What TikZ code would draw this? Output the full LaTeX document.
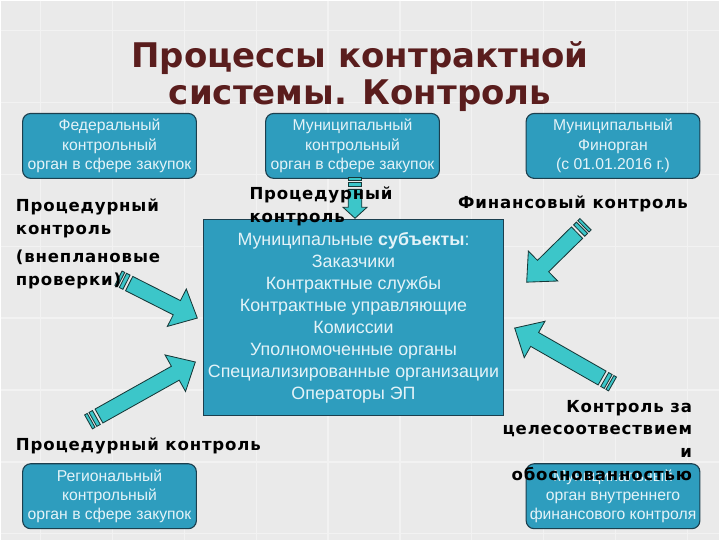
\documentclass[tikz,border=0pt]{standalone}
\usepackage{fontspec}
\setmainfont{Liberation Sans}
\newfontfamily\titlefont{DejaVu Sans}
\newfontfamily\lblfont[LetterSpace=5]{DejaVu Sans}
\usetikzlibrary{calc}
\definecolor{bg}{HTML}{EAEAEA}
\definecolor{bgline}{HTML}{F2F2F2}
\definecolor{boxfill}{HTML}{2E9DBE}
\definecolor{boxline}{HTML}{1C3F4E}
\definecolor{boxtext}{HTML}{E4F3F8}
\definecolor{arrowfill}{HTML}{3CC6C9}
\definecolor{arrowline}{HTML}{163838}
\definecolor{titlecol}{HTML}{5A1D1D}
\tikzset{
  orgbox/.style={draw=boxline, line width=0.8pt, fill=boxfill, rounded corners=0.2cm,
    text=boxtext, align=center, inner sep=0pt, minimum width=4.35cm, minimum height=1.625cm,
    font=\fontsize{11.2}{13.8}\selectfont},
  subjbox/.style={draw=boxline, line width=0.8pt, fill=boxfill, text=boxtext, align=center,
    inner sep=0pt, minimum width=7.525cm, minimum height=4.925cm,
    font=\fontsize{12.7}{15.7}\selectfont},
  lbl/.style={inner sep=0pt, text=black, font=\lblfont\bfseries\fontsize{11.8}{16.2}\selectfont},
  titlesty/.style={inner sep=0pt, text=titlecol, align=center,
    font=\titlefont\bfseries\fontsize{24.2}{27}\selectfont},
  arrowsty/.style={fill=arrowfill, draw=arrowline, line width=0.6pt, line join=miter}
}
% #1 tail, #2 tip, #3 body half width, #4 head half width, #5 head length
\newcommand\striparrow[5]{%
  \filldraw[arrowsty] ($(#1)!0cm!(#2)!#3!90:(#2)$) -- ($(#1)!0.075cm!(#2)!#3!90:(#2)$)
     -- ($(#1)!0.075cm!(#2)!#3!-90:(#2)$) -- ($(#1)!0cm!(#2)!#3!-90:(#2)$) -- cycle;
  \filldraw[arrowsty] ($(#1)!0.125cm!(#2)!#3!90:(#2)$) -- ($(#1)!0.225cm!(#2)!#3!90:(#2)$)
     -- ($(#1)!0.225cm!(#2)!#3!-90:(#2)$) -- ($(#1)!0.125cm!(#2)!#3!-90:(#2)$) -- cycle;
  \filldraw[arrowsty] ($(#1)!0.3cm!(#2)!#3!90:(#2)$) -- ($(#2)!#5!(#1)!#3!90:(#2)$)
     -- ($(#2)!#5!(#1)!#4!90:(#2)$) -- (#2) -- ($(#2)!#5!(#1)!#4!-90:(#2)$)
     -- ($(#2)!#5!(#1)!#3!-90:(#2)$) -- ($(#1)!0.3cm!(#2)!#3!-90:(#2)$) -- cycle;
}
\begin{document}
\begin{tikzpicture}[x=0.025cm,y=-0.025cm]
% background
\fill[bg] (0,0) rectangle (720,540);
\foreach \gx in {40,112,184,256,328,400,472,544,616,688}
  \draw[bgline, line width=1pt] (\gx,0) -- (\gx,540);
\foreach \gy in {30,102,174,246,318,390,462,534}
  \draw[bgline, line width=1pt] (0,\gy) -- (720,\gy);
\useasboundingbox (0,0) rectangle (720,540);

% title
\node[titlesty] (title) at (360,76) {Процессы контрактной\\системы. Контроль};

% organisation boxes
\node[orgbox] (fed) at (109,145.5) {Федеральный\\контрольный\\орган в сфере закупок};
\node[orgbox] (mun) at (352.5,145.5) {Муниципальный\\контрольный\\орган в сфере закупок};
\node[orgbox] (fin) at (613.5,145.5) {Муниципальный\\Финорган\\(с 01.01.2016 г.)};
\node[orgbox] (reg) at (109,496.5) {Региональный\\контрольный\\орган в сфере закупок};
\node[orgbox] (int) at (613.5,496.5) {Муниципальный\\орган внутреннего\\финансового контроля};

% central box
\node[subjbox] (subj) at (353.5,317.5) {Муниципальные \textbf{субъекты}:\\Заказчики\\Контрактные службы\\Контрактные управляющие\\Комиссии\\Уполномоченные органы\\Специализированные организации\\Операторы ЭП};

% arrows
\coordinate (t1) at (118,278); \coordinate (h1) at (197,318);
\coordinate (t2) at (88,422);  \coordinate (h2) at (195,362);
\coordinate (t3) at (586,224); \coordinate (h3) at (527,282);
\coordinate (t4) at (613,384); \coordinate (h4) at (515,328);
\coordinate (t5) at (355,177); \coordinate (h5) at (355,218);
\striparrow{t1}{h1}{0.2cm}{0.525cm}{0.575cm}
\striparrow{t2}{h2}{0.2cm}{0.525cm}{0.575cm}
\striparrow{t3}{h3}{0.2cm}{0.525cm}{0.575cm}
\striparrow{t4}{h4}{0.2cm}{0.525cm}{0.575cm}
\striparrow{t5}{h5}{0.17cm}{0.3cm}{0.275cm}

% labels
\node[lbl, anchor=west, align=left] (lblA) at (15,218) {Процедурный\\контроль};
\node[lbl, anchor=west, align=left] (lblB) at (15,269) {(внеплановые\\проверки)};
\node[lbl, anchor=west, align=left] (lblC) at (249,206) {Процедурный\\контроль};
\node[lbl, anchor=west] (lblD) at (458,204) {Финансовый контроль};
\node[lbl, anchor=east, align=right] (lblE) at (693,440.5) {Контроль за\\целесоотвествием\\и\\обоснованностью};
\node[lbl, anchor=west] (lblF) at (15,446) {Процедурный контроль};
\end{tikzpicture}
\end{document}
